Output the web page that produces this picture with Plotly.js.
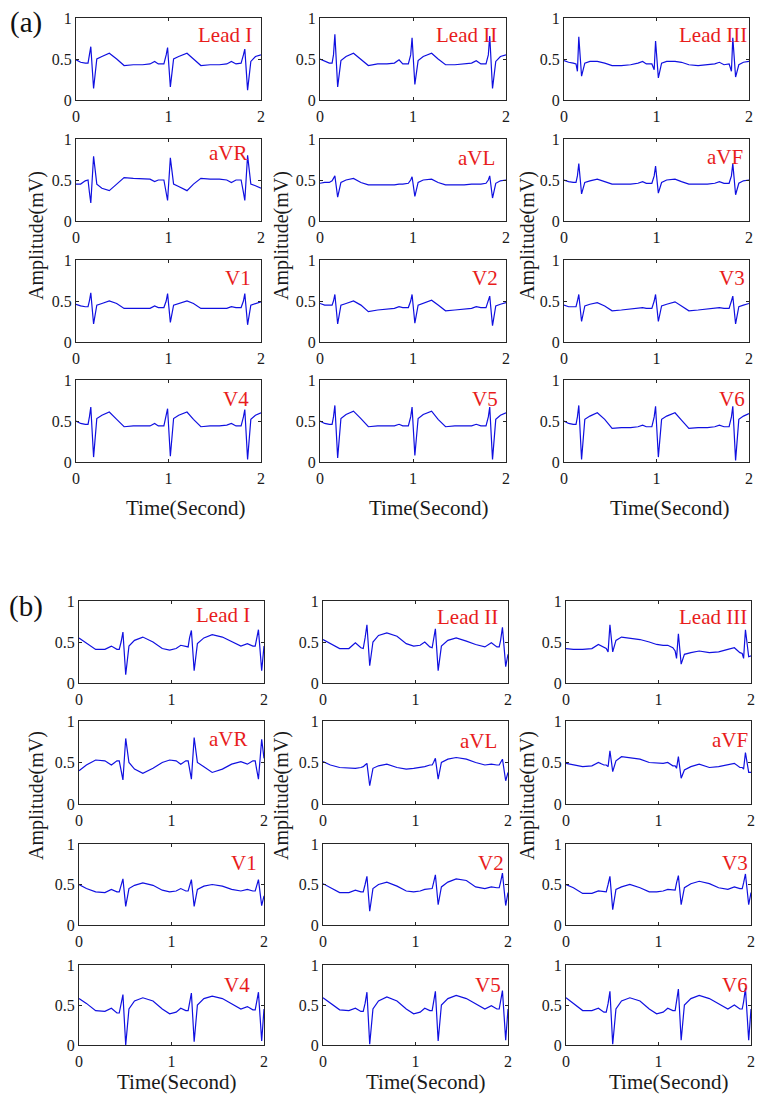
<!DOCTYPE html>
<html>
<head>
<meta charset="utf-8">
<script src="https://cdn.plot.ly/plotly-3.0.1.min.js"></script>
<style>html,body{margin:0;padding:0;background:#fff;}#chart{width:763px;height:1103px;}</style>
</head>
<body>
<div id="chart"></div>
<script>
// ---- Data ----
var leadNames = ['Lead I','Lead II','Lead III','aVR','aVL','aVF','V1','V2','V3','V4','V5','V6'];
var xTickVals = [0, 1, 2];
var yTickVals = [0, 0.5, 1];
var yTickText = ['0', '0.5', '1'];
var xTitle = 'Time(Second)';
var yTitle = 'Amplitude(mV)';

// (a) time samples (s)
var tA = [0,0.05,0.1,0.13,0.145,0.16,0.19,0.225,0.28,0.36,0.44,0.52,0.62,0.72,0.8,0.85,0.89,0.95,0.975,0.99,1.02,1.055,1.11,1.2,1.27,1.35,1.45,1.55,1.63,1.68,1.73,1.785,1.81,1.825,1.855,1.89,1.94,2.0];
var a_I   = [0.49,0.46,0.45,0.45,0.55,0.65,0.14,0.50,0.53,0.57,0.50,0.42,0.43,0.43,0.44,0.47,0.44,0.44,0.55,0.64,0.16,0.50,0.53,0.57,0.50,0.42,0.43,0.43,0.44,0.47,0.44,0.45,0.55,0.62,0.12,0.47,0.53,0.55];
var a_II  = [0.50,0.47,0.45,0.45,0.55,0.80,0.16,0.48,0.53,0.57,0.50,0.42,0.44,0.44,0.45,0.49,0.44,0.44,0.55,0.76,0.19,0.48,0.53,0.57,0.50,0.43,0.43,0.44,0.45,0.48,0.44,0.44,0.55,0.78,0.14,0.47,0.53,0.55];
var a_III = [0.48,0.46,0.45,0.44,0.35,0.77,0.29,0.45,0.47,0.47,0.45,0.42,0.42,0.43,0.45,0.47,0.44,0.44,0.37,0.72,0.27,0.45,0.47,0.47,0.46,0.43,0.42,0.43,0.44,0.46,0.43,0.44,0.35,0.76,0.28,0.43,0.46,0.47];
var a_aVR = [0.45,0.45,0.49,0.50,0.35,0.22,0.79,0.45,0.40,0.37,0.45,0.53,0.52,0.51,0.51,0.48,0.50,0.50,0.35,0.25,0.77,0.45,0.42,0.37,0.45,0.52,0.51,0.51,0.50,0.47,0.50,0.50,0.35,0.25,0.80,0.45,0.43,0.40];
var a_aVL = [0.46,0.47,0.47,0.49,0.52,0.55,0.29,0.47,0.50,0.52,0.47,0.44,0.44,0.44,0.44,0.45,0.45,0.46,0.50,0.54,0.30,0.47,0.50,0.51,0.47,0.44,0.44,0.44,0.45,0.45,0.45,0.46,0.50,0.55,0.28,0.46,0.49,0.50];
var a_aVF = [0.50,0.48,0.47,0.47,0.55,0.70,0.33,0.47,0.49,0.51,0.48,0.45,0.45,0.45,0.46,0.48,0.46,0.46,0.55,0.67,0.34,0.47,0.50,0.51,0.48,0.45,0.45,0.45,0.46,0.48,0.46,0.46,0.55,0.70,0.32,0.46,0.49,0.50];
var a_V1  = [0.46,0.44,0.43,0.43,0.50,0.60,0.22,0.45,0.47,0.50,0.47,0.41,0.41,0.41,0.41,0.44,0.42,0.42,0.50,0.59,0.24,0.45,0.47,0.50,0.47,0.41,0.41,0.41,0.41,0.43,0.42,0.42,0.50,0.59,0.21,0.45,0.47,0.49];
var a_V2  = [0.47,0.45,0.45,0.45,0.50,0.58,0.22,0.45,0.47,0.50,0.45,0.37,0.39,0.40,0.41,0.43,0.42,0.42,0.50,0.58,0.23,0.45,0.47,0.51,0.45,0.38,0.39,0.40,0.41,0.43,0.42,0.42,0.50,0.56,0.20,0.44,0.46,0.48];
var a_V3  = [0.45,0.43,0.43,0.43,0.50,0.58,0.25,0.44,0.46,0.48,0.44,0.38,0.39,0.40,0.41,0.42,0.41,0.41,0.50,0.58,0.25,0.44,0.46,0.49,0.44,0.38,0.39,0.40,0.41,0.42,0.41,0.41,0.50,0.56,0.22,0.43,0.45,0.47];
var a_V4  = [0.50,0.47,0.46,0.46,0.55,0.67,0.06,0.53,0.57,0.61,0.52,0.43,0.44,0.44,0.44,0.47,0.44,0.44,0.55,0.65,0.07,0.53,0.57,0.61,0.52,0.43,0.44,0.44,0.45,0.47,0.44,0.44,0.55,0.64,0.03,0.52,0.57,0.60];
var a_V5  = [0.50,0.47,0.46,0.46,0.55,0.69,0.05,0.53,0.58,0.62,0.53,0.43,0.44,0.44,0.44,0.46,0.44,0.44,0.55,0.67,0.08,0.53,0.58,0.62,0.52,0.43,0.44,0.44,0.44,0.46,0.44,0.44,0.55,0.67,0.03,0.52,0.57,0.60];
var a_V6  = [0.50,0.47,0.46,0.46,0.55,0.69,0.03,0.52,0.56,0.60,0.52,0.41,0.42,0.42,0.43,0.45,0.43,0.43,0.55,0.68,0.06,0.52,0.56,0.60,0.51,0.41,0.42,0.42,0.43,0.45,0.43,0.43,0.55,0.68,0.02,0.52,0.56,0.59];

// (b) time samples (s)
var tB = [0,0.08,0.18,0.28,0.35,0.41,0.435,0.455,0.475,0.505,0.54,0.6,0.69,0.8,0.9,0.98,1.05,1.1,1.155,1.18,1.195,1.215,1.245,1.28,1.35,1.44,1.55,1.65,1.75,1.82,1.88,1.905,1.92,1.94,1.975,2.0];
var b_I   = [0.55,0.49,0.41,0.41,0.45,0.41,0.41,0.50,0.62,0.10,0.45,0.52,0.56,0.50,0.42,0.40,0.42,0.46,0.44,0.44,0.55,0.64,0.15,0.48,0.55,0.59,0.56,0.50,0.45,0.48,0.45,0.45,0.55,0.65,0.15,0.45];
var b_II  = [0.53,0.48,0.42,0.42,0.49,0.43,0.42,0.55,0.71,0.21,0.50,0.58,0.61,0.57,0.48,0.45,0.46,0.50,0.44,0.43,0.52,0.66,0.15,0.45,0.52,0.55,0.51,0.47,0.44,0.49,0.44,0.44,0.52,0.68,0.20,0.35];
var b_III = [0.42,0.41,0.41,0.42,0.47,0.44,0.42,0.38,0.71,0.38,0.52,0.56,0.55,0.53,0.50,0.47,0.46,0.46,0.43,0.39,0.30,0.60,0.23,0.35,0.37,0.39,0.37,0.38,0.41,0.43,0.37,0.36,0.30,0.65,0.32,0.33];
var b_aVR = [0.40,0.47,0.53,0.52,0.47,0.52,0.52,0.42,0.29,0.79,0.50,0.42,0.37,0.43,0.50,0.53,0.52,0.48,0.52,0.52,0.42,0.30,0.80,0.50,0.45,0.38,0.42,0.48,0.51,0.48,0.52,0.52,0.42,0.30,0.78,0.55];
var b_aVL = [0.51,0.47,0.44,0.43,0.43,0.44,0.45,0.47,0.49,0.22,0.43,0.46,0.48,0.44,0.42,0.43,0.44,0.45,0.47,0.47,0.50,0.55,0.30,0.50,0.54,0.56,0.54,0.50,0.47,0.48,0.47,0.47,0.50,0.54,0.28,0.38];
var b_aVF = [0.49,0.47,0.45,0.46,0.50,0.47,0.47,0.45,0.64,0.39,0.52,0.57,0.56,0.54,0.50,0.49,0.49,0.50,0.46,0.46,0.43,0.57,0.31,0.41,0.45,0.48,0.44,0.45,0.47,0.49,0.44,0.44,0.42,0.62,0.38,0.38];
var b_V1  = [0.50,0.45,0.41,0.40,0.44,0.41,0.41,0.48,0.57,0.23,0.45,0.49,0.52,0.49,0.43,0.41,0.42,0.45,0.42,0.42,0.48,0.56,0.23,0.44,0.48,0.50,0.48,0.44,0.42,0.44,0.42,0.42,0.48,0.56,0.24,0.36];
var b_V2  = [0.51,0.46,0.40,0.40,0.43,0.41,0.41,0.50,0.60,0.17,0.45,0.50,0.53,0.48,0.42,0.41,0.42,0.44,0.45,0.45,0.52,0.62,0.25,0.47,0.53,0.57,0.55,0.47,0.45,0.47,0.46,0.46,0.53,0.64,0.24,0.40];
var b_V3  = [0.50,0.46,0.39,0.39,0.42,0.41,0.41,0.50,0.60,0.19,0.44,0.47,0.50,0.46,0.41,0.41,0.42,0.44,0.43,0.43,0.52,0.61,0.25,0.46,0.51,0.54,0.51,0.46,0.44,0.47,0.45,0.45,0.52,0.63,0.25,0.40];
var b_V4  = [0.58,0.52,0.43,0.42,0.46,0.40,0.40,0.50,0.63,0.00,0.45,0.55,0.59,0.55,0.45,0.39,0.41,0.46,0.43,0.43,0.52,0.65,0.04,0.50,0.58,0.61,0.58,0.52,0.45,0.48,0.44,0.44,0.52,0.66,0.05,0.45];
var b_V5  = [0.59,0.52,0.44,0.43,0.46,0.42,0.42,0.52,0.66,0.01,0.45,0.55,0.60,0.55,0.45,0.39,0.41,0.46,0.43,0.43,0.52,0.67,0.05,0.50,0.58,0.62,0.58,0.52,0.45,0.49,0.45,0.45,0.53,0.68,0.06,0.45];
var b_V6  = [0.59,0.52,0.43,0.43,0.46,0.41,0.41,0.52,0.67,0.01,0.45,0.55,0.59,0.55,0.45,0.39,0.41,0.46,0.43,0.43,0.53,0.70,0.06,0.50,0.58,0.62,0.58,0.52,0.45,0.50,0.45,0.45,0.54,0.71,0.06,0.45];

var seriesA = [a_I,a_II,a_III,a_aVR,a_aVL,a_aVF,a_V1,a_V2,a_V3,a_V4,a_V5,a_V6];
var seriesB = [b_I,b_II,b_III,b_aVR,b_aVL,b_aVF,b_V1,b_V2,b_V3,b_V4,b_V5,b_V6];

// ---- Layout geometry (pixels) ----
var W = 763, H = 1103;
var panels = [
  { t: tA, s: seriesA, tag: '(a)', tagY: 23,
    cols: [[76,261],[320,506],[564,749]],
    rows: [[18,100],[139,221],[260,342],[380,462]],
    labelPos: [[225,35],[466,35],[713,35],[228,153],[476,158],[725,157],[238,278],[485,278],[732,278],[236,399],[485,399],[732,399]],
    yTitleY: 236, yTitleX: [36,281,527], xTitleY: 508, xTitleX: [185,428,669] },
  { t: tB, s: seriesB, tag: '(b)', tagY: 606,
    cols: [[79,264],[323,508],[566,751]],
    rows: [[601,683],[721,804],[844,925],[965,1045]],
    labelPos: [[223,615],[467,617],[713,617],[228,739],[478,741],[730,740],[244,863],[491,863],[735,863],[237,985],[488,985],[735,985]],
    yTitleY: 796, yTitleX: [36,281,527], xTitleY: 1082, xTitleX: [176,426,668] }
];

var serif = 'Liberation Serif, Times New Roman, serif';
var axisColor = '#262626';
var traces = [];
var layout = {
  width: W, height: H, margin: {l:0,r:0,t:0,b:0},
  paper_bgcolor: '#fff', plot_bgcolor: '#fff', showlegend: false,
  annotations: []
};

var k = 0;
panels.forEach(function(p){
  for (var i = 0; i < 12; i++) {
    k++;
    var r = Math.floor(i/3), c = i%3;
    var suf = (k === 1 ? '' : String(k));
    traces.push({
      x: p.t, y: p.s[i], type: 'scatter', mode: 'lines',
      xaxis: 'x' + suf, yaxis: 'y' + suf,
      line: {color: '#1010e0', width: 1.2}, hoverinfo: 'skip'
    });
    var common = {
      showline: true, linecolor: axisColor, linewidth: 1, mirror: 'ticks',
      ticks: 'inside', ticklen: 3, tickcolor: axisColor,
      showgrid: false, zeroline: false, fixedrange: true,
      tickfont: {family: serif, size: 16, color: '#1a1a1a'}
    };
    layout['xaxis' + suf] = Object.assign({}, common, {
      domain: [p.cols[c][0]/W, p.cols[c][1]/W], range: [0, 2],
      tickmode: 'array', tickvals: xTickVals, ticktext: xTickVals.map(String),
      ticklabelstandoff: 2, anchor: 'y' + suf
    });
    layout['yaxis' + suf] = Object.assign({}, common, {
      domain: [1 - p.rows[r][1]/H, 1 - p.rows[r][0]/H], range: [0, 1],
      tickmode: 'array', tickvals: yTickVals, ticktext: yTickText,
      anchor: 'x' + suf
    });
    layout.annotations.push({
      xref: 'paper', yref: 'paper', x: p.labelPos[i][0]/W, y: 1 - p.labelPos[i][1]/H,
      xanchor: 'center', yanchor: 'middle', showarrow: false,
      text: leadNames[i], font: {family: serif, size: 21, color: '#e81c1c'}
    });
  }
  layout.annotations.push({
    xref: 'paper', yref: 'paper', x: 26/W, y: 1 - p.tagY/H,
    xanchor: 'center', yanchor: 'middle', showarrow: false,
    text: p.tag, font: {family: serif, size: 29, color: '#111'}
  });
  for (var c2 = 0; c2 < 3; c2++) {
    layout.annotations.push({
      xref: 'paper', yref: 'paper', x: p.yTitleX[c2]/W, y: 1 - p.yTitleY/H,
      xanchor: 'center', yanchor: 'middle', showarrow: false, textangle: -90,
      text: yTitle, font: {family: serif, size: 20, color: '#1a1a1a'}
    });
    layout.annotations.push({
      xref: 'paper', yref: 'paper', x: p.xTitleX[c2]/W, y: 1 - p.xTitleY/H,
      xanchor: 'center', yanchor: 'middle', showarrow: false,
      text: xTitle, font: {family: serif, size: 21, color: '#1a1a1a'}
    });
  }
});

Plotly.newPlot('chart', traces, layout, {staticPlot: true, displayModeBar: false});
</script>
</body>
</html>
